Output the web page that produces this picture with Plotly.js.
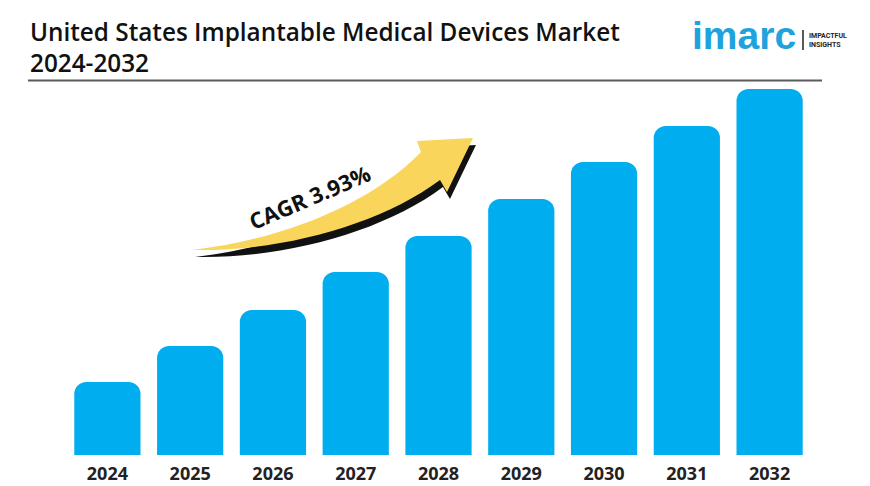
<!DOCTYPE html>
<html>
<head>
<meta charset="utf-8">
<script src="https://cdn.plot.ly/plotly-3.0.1.min.js"></script>
<style>html,body{margin:0;padding:0;background:#fff;}#chart{width:870px;height:486px;}</style>
</head>
<body>
<div id="chart"></div>
<script>
// Data (relative market size)
const years = ['2024','2025','2026','2027','2028','2029','2030','2031','2032'];
const values = [73, 109, 145, 183, 219, 256, 293, 329, 366];
const titleLine1 = 'United States Implantable Medical Devices Market';
const titleLine2 = '2024-2032';
const cagrText = 'CAGR 3.93%';

const W = 870, H = 486;
const M = {l: 66, r: 59, t: 89, b: 31};
const PW = W - M.l - M.r, PH = H - M.t - M.b;
const X = px => (px - M.l) / PW;
const Y = py => (H - M.b - py) / PH;

function arrowPath(dx, dy) {
  const p = (x, y) => X(x + dx).toFixed(4) + ',' + Y(y + dy).toFixed(4);
  return 'M' + p(192, 250) +
    ' C' + p(280, 252) + ' ' + p(380, 225) + ' ' + p(440, 180) +
    ' L' + p(447, 192) +
    ' L' + p(473, 138) +
    ' L' + p(417, 141) +
    ' L' + p(421, 152) +
    ' C' + p(370, 205) + ' ' + p(280, 240) + ' ' + p(192, 250) + ' Z';
}

const trace = {
  type: 'bar',
  x: years,
  y: values,
  marker: {color: '#00AEEF', cornerradius: 12},
  hoverinfo: 'skip'
};

const layout = {
  width: W, height: H,
  margin: M,
  paper_bgcolor: '#ffffff',
  plot_bgcolor: '#ffffff',
  showlegend: false,
  bargap: 0.2,
  xaxis: {
    type: 'category',
    showgrid: false, zeroline: false, showline: false, ticks: '',
    tickfont: {family: 'Open Sans', size: 18, color: '#222222', weight: 'bold'},
    ticklabelstandoff: 6
  },
  yaxis: {
    range: [0, 366],
    visible: false, showgrid: false, zeroline: false
  },
  shapes: [
    {type: 'line', xref: 'paper', yref: 'paper', x0: X(28), x1: X(822), y0: Y(80.5), y1: Y(80.5),
     line: {color: '#5a5a5a', width: 2}},
    {type: 'path', xref: 'paper', yref: 'paper', path: arrowPath(3, 7),
     fillcolor: '#111111', line: {width: 0}},
    {type: 'path', xref: 'paper', yref: 'paper', path: arrowPath(0, 0),
     fillcolor: '#F9D55B', line: {width: 0}},
    {type: 'line', xref: 'paper', yref: 'paper', x0: X(803), x1: X(803), y0: Y(30), y1: Y(50),
     line: {color: '#222222', width: 1.5}}
  ],
  annotations: [
    {xref: 'paper', yref: 'paper', x: X(28), y: Y(31), xanchor: 'left', yanchor: 'middle',
     text: titleLine1, showarrow: false,
     font: {family: 'Open Sans', size: 24.3, color: '#111111', weight: 600}},
    {xref: 'paper', yref: 'paper', x: X(28), y: Y(63), xanchor: 'left', yanchor: 'middle',
     text: titleLine2, showarrow: false,
     font: {family: 'Open Sans', size: 24.3, color: '#111111', weight: 600}},
    {xref: 'paper', yref: 'paper', x: X(690), y: Y(35), xanchor: 'left', yanchor: 'middle',
     text: 'imarc', showarrow: false,
     font: {family: 'Liberation Sans', size: 39, color: '#1EA3DD', weight: 'bold'}},
    {xref: 'paper', yref: 'paper', x: X(807), y: Y(36), xanchor: 'left', yanchor: 'middle',
     text: 'IMPACTFUL', showarrow: false,
     font: {family: 'Roboto', size: 7, color: '#222222', weight: 'bold'}},
    {xref: 'paper', yref: 'paper', x: X(807), y: Y(45), xanchor: 'left', yanchor: 'middle',
     text: 'INSIGHTS', showarrow: false,
     font: {family: 'Roboto', size: 7, color: '#222222', weight: 'bold'}},
    {xref: 'paper', yref: 'paper', x: X(309), y: Y(197), xanchor: 'center', yanchor: 'middle',
     text: cagrText, showarrow: false, textangle: -23,
     font: {family: 'Open Sans', size: 22, color: '#111111', weight: 'bold'}}
  ]
};

Plotly.newPlot('chart', [trace], layout, {staticPlot: true, displayModeBar: false});
</script>
</body>
</html>
